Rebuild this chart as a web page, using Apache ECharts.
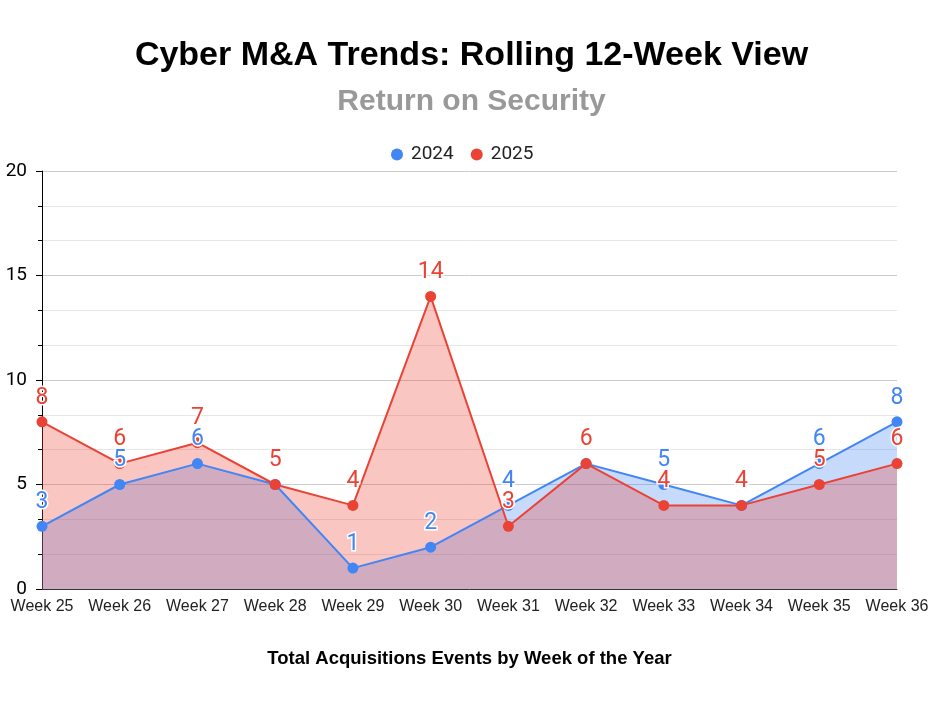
<!DOCTYPE html>
<html><head><meta charset="utf-8">
<script src="https://cdn.jsdelivr.net/npm/echarts@6/dist/echarts.min.js"></script>
<style>html,body{margin:0;padding:0;background:#fff}#c{width:943px;height:702px}</style>
</head><body><div id="c"></div>
<script>
const categories = ['Week 25','Week 26','Week 27','Week 28','Week 29','Week 30','Week 31','Week 32','Week 33','Week 34','Week 35','Week 36'];
const values2024 = [3,5,6,5,1,2,4,6,5,4,6,8];
const values2025 = [8,6,7,5,4,14,3,6,4,4,5,6];
const yTicks = [0,5,10,15,20];

const chart = echarts.init(document.getElementById('c'));
function mk(name, data, color) {
  return {
    name, type: 'line', data,
    symbol: 'circle', symbolSize: 11,
    itemStyle: { color },
    lineStyle: { color, width: 2 },
    areaStyle: { color, opacity: 0.3 },
    label: {
      show: true, position: 'top', distance: 7,
      color, fontSize: 23, fontFamily: 'Roboto',
      textBorderColor: '#fff', textBorderWidth: 3
    },
    emphasis: { disabled: true }
  };
}
chart.setOption({
  animation: false,
  title: [
    { text: 'Cyber M&A Trends: Rolling 12-Week View', left: 'center', top: 34,
      textStyle: { fontFamily: 'Liberation Sans', fontWeight: 'bold', fontSize: 34, color: '#000' } },
    { text: 'Return on Security', left: 'center', top: 82,
      textStyle: { fontFamily: 'Liberation Sans', fontWeight: 'bold', fontSize: 30, color: '#999' } }
  ],
  legend: {
    top: 140, left: 386, icon: 'circle', itemWidth: 12, itemHeight: 12, itemGap: 17,
    textStyle: { fontFamily: 'Roboto', fontSize: 19, color: '#222', padding: [0, 0, 0, 3] },
    data: ['2024','2025']
  },
  grid: { left: 42, right: 46, top: 171, bottom: 113, containLabel: false },
  xAxis: {
    type: 'category', data: categories, boundaryGap: false,
    name: 'Total Acquisitions Events by Week of the Year', nameLocation: 'middle', nameGap: 60,
    nameTextStyle: { fontFamily: 'Liberation Sans', fontWeight: 'bold', fontSize: 18.5, color: '#000' },
    axisLine: { lineStyle: { color: '#333', width: 1 } },
    axisTick: { show: false },
    axisLabel: { fontFamily: 'Liberation Sans', fontSize: 16, color: '#222', margin: 10, interval: 0 },
    splitLine: { show: false }
  },
  yAxis: {
    type: 'value', min: yTicks[0], max: yTicks[yTicks.length-1], interval: 5,
    axisLine: { show: true, lineStyle: { color: '#000', width: 1 } },
    axisTick: { show: true, length: 6, lineStyle: { color: '#000' } },
    minorTick: { show: true, splitNumber: 3, length: 4, lineStyle: { color: '#000' } },
    axisLabel: { fontFamily: 'Roboto', fontSize: 19, color: '#000', margin: 15 },
    splitLine: { lineStyle: { color: '#ccc', width: 1 } },
    minorSplitLine: { show: true, lineStyle: { color: '#e6e6e6', width: 1 } }
  },
  series: [ mk('2024', values2024, '#4285F4'), mk('2025', values2025, '#EA4335') ]
});
</script></body></html>
